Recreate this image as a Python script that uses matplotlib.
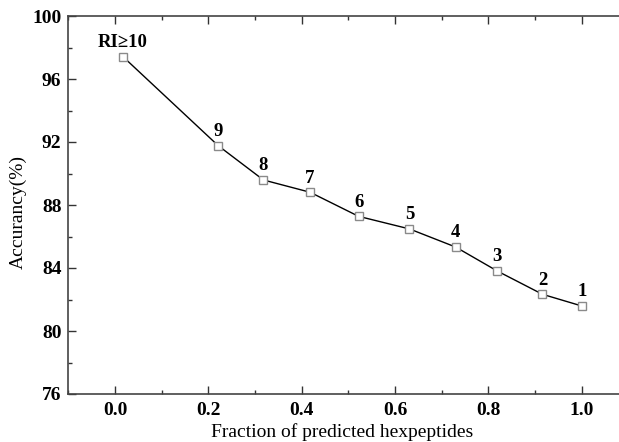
import matplotlib
matplotlib.use("Agg")
import matplotlib.pyplot as plt
from matplotlib.ticker import MultipleLocator

# values
fraction = [0.017, 0.221, 0.318, 0.418, 0.522, 0.631, 0.730, 0.819, 0.916, 1.000]
accuracy = [97.42, 91.77, 89.59, 88.81, 87.28, 86.48, 85.33, 83.81, 82.33, 81.59]
ri_labels = ["RI\u226510", "9", "8", "7", "6", "5", "4", "3", "2", "1"]

plt.rcParams['font.family'] = ['Liberation Serif', 'DejaVu Serif']

fig = plt.figure(figsize=(6.19, 4.42), dpi=100)
W, H = 619, 442
# right spine lies outside the picture (cropped), like the original
x0, x1 = 115, 581.7     # pixel positions of 0.0 and 1.0
ppu = (x1 - x0)
left_px = x0 - 0.1 * ppu
right_px = x0 + 1.2 * ppu
top_px, bot_px = 16, 394
ax = fig.add_axes([left_px / W, 1 - bot_px / H, (right_px - left_px) / W, (bot_px - top_px) / H])

ax.plot(fraction, accuracy, color='black', lw=1.0, marker='s', ms=6,
        mfc='white', mec='#8a8a8a', mew=1.0, zorder=3)
for x, y, lab in zip(fraction, accuracy, ri_labels):
    ax.annotate(lab, (x, y), xytext=(0, 4), textcoords='offset points',
                ha='center', va='bottom', fontsize=13.5, fontweight='bold')

ax.set_xlim(-0.1, 1.2)
ax.set_ylim(76, 100)
ax.xaxis.set_minor_locator(MultipleLocator(0.1))
ax.yaxis.set_major_locator(MultipleLocator(4))
ax.yaxis.set_minor_locator(MultipleLocator(2))
ax.set_xticks([0.0, 0.2, 0.4, 0.6, 0.8, 1.0])
ax.set_xticklabels(["0.0", "0.2", "0.4", "0.6", "0.8", "1.0"])

ax.tick_params(which='both', direction='in', top=True, right=False, width=1.0, colors='#333333')
ax.tick_params(which='major', length=6)
ax.tick_params(which='minor', length=3)
ax.tick_params(axis='x', pad=6, labelsize=14, labelcolor='black')
ax.tick_params(axis='y', pad=5, labelsize=14, labelcolor='black')
for t in ax.get_xticklabels() + ax.get_yticklabels():
    t.set_fontweight('bold')
for s in ax.spines.values():
    s.set_linewidth(1.2)
    s.set_color('#444444')

fig.text(342 / W, 1 - 432 / H, "Fraction of predicted hexpeptides", ha='center', va='center', fontsize=14)
fig.text(18 / W, 1 - 212 / H, "Accurancy(%)", ha='center', va='center', rotation=90, fontsize=14)

fig.savefig("out.png", dpi=100)
